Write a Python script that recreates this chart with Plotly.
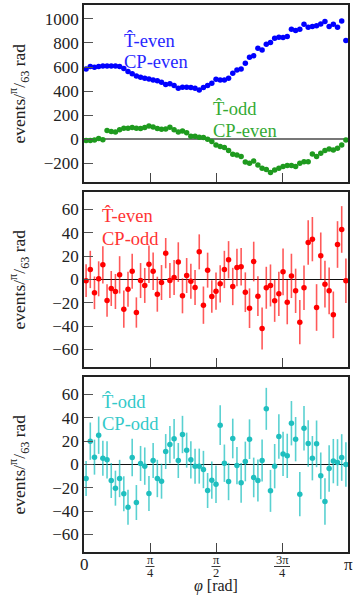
import numpy as np
import plotly.graph_objects as go

# ---------------- data ----------------
n_bins = 63
phi = [(i + 0.5) * np.pi / n_bins for i in range(n_bins)]

t_even_cp_even = [584, 604, 598, 604, 609, 609, 609, 609, 604, 587,
                  562, 543, 526, 515, 507, 501, 493, 485, 474, 454,
                  460, 446, 424, 432, 432, 429, 424, 410, 429, 446,
                  465, 499, 493, 493, 507, 548, 576, 584, 632, 681,
                  693, 756, 742, 790, 803, 839, 848, 845, 853, 914,
                  903, 914, 956, 931, 936, 942, 958, 978, 936, 956,
                  931, 983, 820]

t_odd_cp_even = [-11, -11, -6, 6, -5, 72, 64, 61, 78, 91,
                 91, 97, 91, 89, 97, 111, 102, 89, 83, 86,
                 100, 78, 61, 69, 55, 25, 25, 17, 14, 0,
                 -19, -47, -61, -69, -94, -125, -130, -144, -188, -199,
                 -180, -213, -241, -252, -277, -255, -241, -227, -219, -219,
                 -227, -199, -186, -186, -122, -144, -116, -94, -80, -89,
                 -75, -47, -6]

t_even_cp_odd = [-1, 8.6, -11.4, 0.6, 12.6, -18, -7.7, -10.3, 4, -25.4,
                 -8.3, 7.1, -28.3, -0.9, -5.1, 13.1, 7.1, -12.6, -2.6, 22.6,
                 -0.9, 1.7, 14.9, -14, 3.4, -1.4, -6.9, 23.7, -22, 8,
                 -14.6, -10, -3.7, 8.6, 16.9, -6, 10.3, 10.9, -10.9, -24.6,
                 15.4, -14.3, -42, -7.1, -5.1, -18.3, -12.3, 6.6, -19.4, 3.1,
                 -9.7, -36.6, -7.1, 31.7, 34.6, -24, 20.3, -4, -9.7, -30.3,
                 30, 42.9, -1.1]

t_even_cp_odd_err = [14, 16, 14, 15, 16, 14, 15, 15, 16, 16,
                     15, 15, 13, 15, 15, 16, 16, 15, 15, 13,
                     15, 15, 17, 15, 15, 15, 15, 15, 16, 15,
                     14, 16, 16, 16, 16, 16, 16, 16, 17, 17,
                     17, 17, 18, 18, 18, 18, 19, 20, 19, 19,
                     19, 19, 19, 19, 19, 20, 20, 20, 20, 20,
                     20, 20, 19]

t_odd_cp_odd = [-12, 20, 6.3, 25.1, 5.4, 4, -13.7, -20.3, -12, -25.1,
                -36.6, 6, -32.6, 0.9, -1.4, -24.9, 3.4, -12, -14.3, 11.1,
                17.1, 22, 3.4, 25.7, 12.3, 4, -1.4, -1.4, -4.3, -22.3,
                -13.4, -16.9, 33.7, 1.1, -14.6, 22.3, -0.9, -15.7, 2.6, 21.7,
                -11.1, -13.7, 3.4, 47.7, -22.6, -1.4, 24, 9.1, 7.4, 35.4,
                21.7, -25.4, 31.1, 18, 5.4, 17.7, -9.7, -31.7, -3.4, 2.9,
                1.7, 6, 0]

t_odd_cp_odd_err = [15, 16, 15, 16, 15, 16, 15, 15, 16, 15,
                    15, 16, 15, 15, 16, 15, 15, 16, 15, 15,
                    16, 17, 15, 16, 15, 16, 15, 15, 16, 15,
                    16, 16, 17, 16, 16, 17, 16, 17, 17, 17,
                    17, 18, 18, 18, 18, 19, 19, 19, 19, 19,
                    19, 19, 19, 20, 19, 20, 20, 20, 20, 19,
                    20, 20, 19]

x_tickvals = [0, np.pi / 4, np.pi / 2, 3 * np.pi / 4, np.pi]
# tick labels: (numerator, denominator); denominator None -> plain label
x_ticklabels = [("0", None), ("π", "4"), ("π", "2"), ("3π", "4"), ("π", None)]
top_yticks = [-200, 0, 200, 400, 600, 800, 1000]
low_yticks = [-60, -40, -20, 0, 20, 40, 60]

# ---------------- layout helpers ----------------
FONT = "Liberation Serif"
W, H = 354, 595
L, R, T, B = 84, 6, 5, 43
PW, PH = W - L - R, H - T - B


def px_x(px):
    return (px - L) / PW


def px_y(py):
    return 1 - (py - T) / PH


BLUE = "#0000ff"
GREEN = "#1e9a1e"
RED = "#ff0000"
CYAN = "#1fbfbf"

fig = go.Figure()
fig.add_trace(go.Scatter(x=phi, y=t_even_cp_even, mode="markers",
                         marker=dict(color=BLUE, size=5.5), xaxis="x", yaxis="y"))
fig.add_trace(go.Scatter(x=phi, y=t_odd_cp_even, mode="markers",
                         marker=dict(color=GREEN, size=5.5), xaxis="x", yaxis="y"))
fig.add_trace(go.Scatter(x=phi, y=t_even_cp_odd, mode="markers",
                         marker=dict(color=RED, size=5.5),
                         error_y=dict(type="data", array=t_even_cp_odd_err, visible=True,
                                      color="rgba(255,0,0,0.65)", thickness=1.6, width=0),
                         xaxis="x2", yaxis="y2"))
fig.add_trace(go.Scatter(x=phi, y=t_odd_cp_odd, mode="markers",
                         marker=dict(color=CYAN, size=5.5),
                         error_y=dict(type="data", array=t_odd_cp_odd_err, visible=True,
                                      color="rgba(20,190,190,0.7)", thickness=1.6, width=0),
                         xaxis="x3", yaxis="y3"))

dom_top = [px_y(182), px_y(5)]
dom_mid = [px_y(367), px_y(192)]
dom_bot = [px_y(552), px_y(377)]

common_x = dict(range=[0, np.pi], showline=True, mirror=True, linecolor="#222",
                linewidth=1.5, ticks="inside", ticklen=9, tickwidth=1.3,
                tickcolor="#444", tickvals=x_tickvals, showgrid=False,
                zeroline=False, domain=[0, 1], automargin=False, showticklabels=False)
common_y = dict(showline=True, mirror=True, linecolor="#222", linewidth=1.5,
                ticks="inside", ticklen=9, tickwidth=1.3, tickcolor="#555",
                showgrid=False, zeroline=True, zerolinewidth=1.3, automargin=False,
                tickfont=dict(family=FONT, size=17, color="#222"))

fig.update_layout(
    width=W, height=H, margin=dict(l=L, r=R, t=T, b=B, autoexpand=False),
    paper_bgcolor="white", plot_bgcolor="white", showlegend=False,
    font=dict(family=FONT, color="#222"),
    xaxis=dict(common_x, anchor="y"),
    xaxis2=dict(common_x, anchor="y2", matches="x"),
    xaxis3=dict(common_x, anchor="y3", matches="x"),
    yaxis=dict(common_y, domain=dom_top, range=[-355, 1115], tickvals=top_yticks,
               zerolinecolor="#777", zerolinewidth=1.6, anchor="x"),
    yaxis2=dict(common_y, domain=dom_mid, range=[-75, 75], tickvals=low_yticks,
                zerolinecolor="#111", anchor="x2"),
    yaxis3=dict(common_y, domain=dom_bot, range=[-75, 75], tickvals=low_yticks,
                zerolinecolor="#111", anchor="x3"),
)

ann = []
shapes = []


def label(text, px, py, color, size=18.5):
    ann.append(dict(text=text, x=px_x(px), y=px_y(py), xref="paper", yref="paper",
                    xanchor="left", yanchor="middle", showarrow=False,
                    font=dict(family=FONT, size=size, color=color)))


label("T\u0302-even", 122, 40, "#2626ff")
label("CP-even", 122, 62, "#2626ff")
label("T\u0302-odd", 211, 109, "#33aa33")
label("CP-even", 211, 131, "#33aa33")
label("T\u0302-even", 100, 216, "#ff3333")
label("CP-odd", 100, 239, "#ff3333")
label("T\u0302-odd", 100, 401, "#33c9c9")
label("CP-odd", 100, 424, "#33c9c9")

# x tick labels of the bottom panel (fractions drawn as numerator / bar / denominator)
for val, (num, den) in zip(x_tickvals, x_ticklabels):
    if den is None:
        ann.append(dict(text=num, x=val, y=px_y(564), xref="x3", yref="paper",
                        xanchor="center", yanchor="middle", showarrow=False,
                        font=dict(family=FONT, size=17, color="#222")))
    else:
        ann.append(dict(text=num, x=val, y=px_y(560), xref="x3", yref="paper",
                        xanchor="center", yanchor="middle", showarrow=False,
                        font=dict(family=FONT, size=12.5, color="#222")))
        ann.append(dict(text=den, x=val, y=px_y(572.5), xref="x3", yref="paper",
                        xanchor="center", yanchor="middle", showarrow=False,
                        font=dict(family=FONT, size=12.5, color="#222")))
        half = 8 if len(num) > 1 else 4.5
        shapes.append(dict(type="line", xref="paper", yref="paper",
                           x0=px_x(L + val / np.pi * PW - half),
                           x1=px_x(L + val / np.pi * PW + half),
                           y0=px_y(566.5), y1=px_y(566.5),
                           line=dict(color="#222", width=0.9)))

ytitle = "events/<sup>π</sup>/<sub>63</sub> rad"
for cy in [(5 + 182) / 2, (192 + 367) / 2, (377 + 552) / 2]:
    ann.append(dict(text=ytitle, x=px_x(19), y=px_y(cy), xref="paper", yref="paper",
                    xanchor="center", yanchor="middle", textangle=-90, showarrow=False,
                    font=dict(family=FONT, size=17.5, color="#222")))

ann.append(dict(text="<i>φ</i> [rad]", x=px_x(216), y=px_y(585.5), xref="paper", yref="paper",
                xanchor="center", yanchor="middle", showarrow=False,
                font=dict(family=FONT, size=16, color="#222")))

fig.update_layout(annotations=ann, shapes=shapes)
fig.write_html("out.html",
               config={"displayModeBar": False},
               post_script="document.body.style.margin='0px';"
                           "document.body.style.overflow='hidden';")
